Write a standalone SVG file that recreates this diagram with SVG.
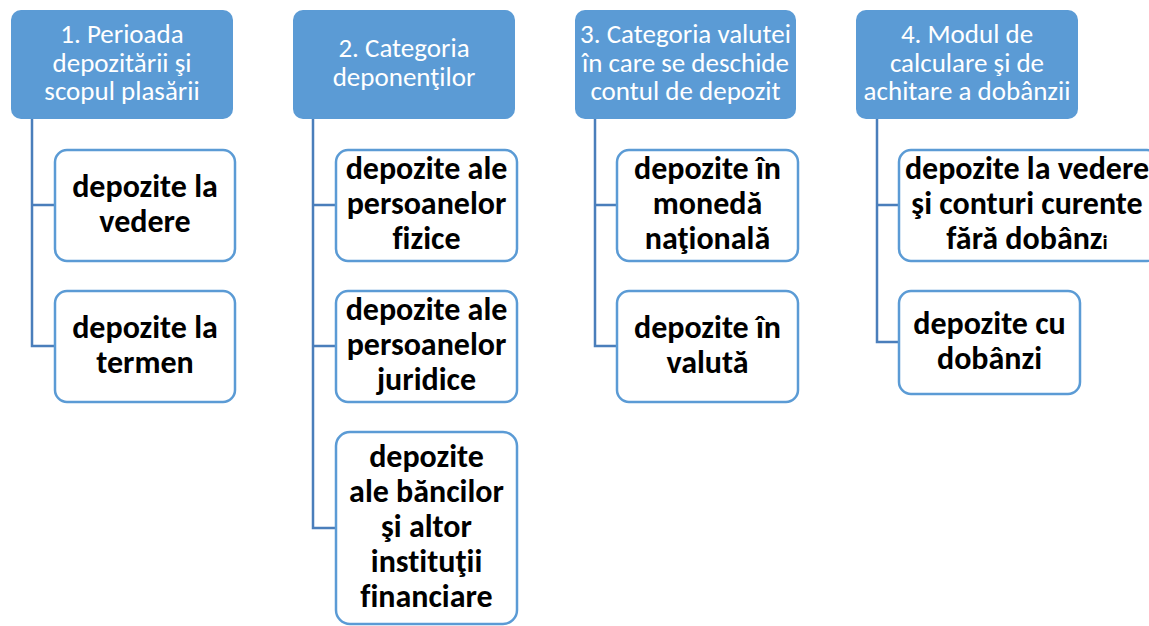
<svg xmlns="http://www.w3.org/2000/svg" width="1149" height="626" viewBox="0 0 1149 626">
<style>
.hdr{fill:#5B9BD5;}
.box{fill:#FFFFFF;stroke:#5B9BD5;stroke-width:2.5;}
.conn{fill:none;stroke:#4A7EBB;stroke-width:2.5;}
.ht{font-family:Carlito,Calibri,Lato,"Liberation Sans",sans-serif;font-size:27px;fill:#FFFFFF;text-anchor:middle;font-variant-ligatures:none;}
.bt{font-family:Carlito,Calibri,Lato,"Liberation Sans",sans-serif;font-size:32px;font-weight:bold;fill:#000000;text-anchor:middle;font-variant-ligatures:none;}
</style>
<rect width="1149" height="626" fill="#FFFFFF"/>
<g id="connectors">
<path class="conn" d="M32,119 V346 H55 M32,205 H55"/>
<path class="conn" d="M313,119 V528 H336 M313,205 H336 M313,346 H336"/>
<path class="conn" d="M595,119 V346 H617 M595,205 H617"/>
<path class="conn" d="M877,119 V342 H899 M877,205 H899"/>
</g>
<g id="h1"><rect class="hdr" x="11" y="10" width="222" height="109" rx="10"/>
<text class="ht"><tspan x="122" y="43">1. Perioada</tspan><tspan x="122" y="72">depozitării şi</tspan><tspan x="122" y="100">scopul plasării</tspan></text></g>
<g id="h2"><rect class="hdr" x="293" y="10" width="222" height="109" rx="10"/>
<text class="ht"><tspan x="404" y="57">2. Categoria</tspan><tspan x="404" y="86">deponenţilor</tspan></text></g>
<g id="h3"><rect class="hdr" x="575" y="10" width="221" height="109" rx="10"/>
<text class="ht"><tspan x="685.5" y="43">3. Categoria valutei</tspan><tspan x="685.5" y="72">în care se deschide</tspan><tspan x="685.5" y="100">contul de depozit</tspan></text></g>
<g id="h4"><rect class="hdr" x="856" y="10" width="222" height="109" rx="10"/>
<text class="ht"><tspan x="967" y="43">4. Modul de</tspan><tspan x="967" y="72">calculare şi de</tspan><tspan x="967" y="100">achitare a dobânzii</tspan></text></g>

<g id="c1a"><rect class="box" x="55" y="150" width="180" height="111" rx="12"/>
<text class="bt"><tspan x="145" y="197">depozite la</tspan><tspan x="145" y="232">vedere</tspan></text></g>
<g id="c1b"><rect class="box" x="55" y="291" width="180" height="111" rx="12"/>
<text class="bt"><tspan x="145" y="338">depozite la</tspan><tspan x="145" y="373">termen</tspan></text></g>

<g id="c2a"><rect class="box" x="336" y="150" width="181" height="111" rx="12"/>
<text class="bt"><tspan x="426.5" y="179">depozite ale</tspan><tspan x="426.5" y="214">persoanelor</tspan><tspan x="426.5" y="249">fizice</tspan></text></g>
<g id="c2b"><rect class="box" x="336" y="291" width="181" height="111" rx="12"/>
<text class="bt"><tspan x="426.5" y="320">depozite ale</tspan><tspan x="426.5" y="355">persoanelor</tspan><tspan x="426.5" y="390">juridice</tspan></text></g>
<g id="c2c"><rect class="box" x="336" y="432" width="181" height="192" rx="14"/>
<text class="bt"><tspan x="426.5" y="467">depozite</tspan><tspan x="426.5" y="502">ale băncilor</tspan><tspan x="426.5" y="537">şi altor</tspan><tspan x="426.5" y="572">instituţii</tspan><tspan x="426.5" y="607">financiare</tspan></text></g>

<g id="c3a"><rect class="box" x="617" y="150" width="181" height="111" rx="12"/>
<text class="bt"><tspan x="707.5" y="179">depozite în</tspan><tspan x="707.5" y="214">monedă</tspan><tspan x="707.5" y="249">naţională</tspan></text></g>
<g id="c3b"><rect class="box" x="617" y="291" width="181" height="111" rx="12"/>
<text class="bt"><tspan x="707.5" y="338">depozite în</tspan><tspan x="707.5" y="373">valută</tspan></text></g>

<g id="c4a"><rect class="box" x="899" y="150" width="260" height="111" rx="12"/>
<text class="bt"><tspan x="1027" y="179">depozite la vedere</tspan><tspan x="1027" y="214">şi conturi curente</tspan><tspan x="1027" y="249">fără dobânz<tspan font-size="21px">i</tspan></tspan></text></g>
<g id="c4b"><rect class="box" x="899" y="291" width="181" height="103" rx="12"/>
<text class="bt"><tspan x="989.5" y="334">depozite cu</tspan><tspan x="989.5" y="369">dobânzi</tspan></text></g>
</svg>
